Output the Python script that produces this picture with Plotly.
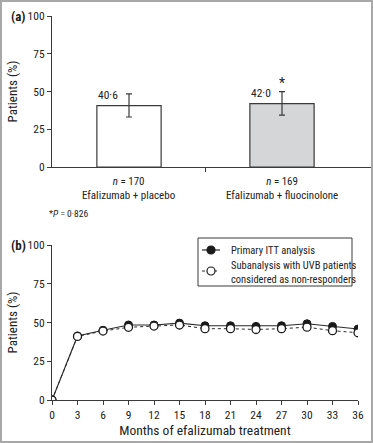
import plotly.graph_objects as go

# ---------------- data ----------------
groups = ["Efalizumab + placebo", "Efalizumab + fluocinolone"]
group_n = [170, 169]
response_pct = [40.6, 42.0]
err_plus = [7.8, 7.9]
err_minus = [7.5, 7.6]
p_value = "0·826"

months = [0, 3, 6, 9, 12, 15, 18, 21, 24, 27, 30, 33, 36]
primary_itt = [0, 41.3, 45.0, 48.4, 48.4, 49.6, 47.9, 47.9, 47.5, 47.9, 49.2, 47.5, 45.8]
subanalysis_uvb = [0, 41.0, 44.5, 46.9, 47.7, 48.4, 46.0, 46.0, 45.5, 46.0, 47.0, 44.7, 43.4]
series_names = ["Primary ITT analysis",
                "Subanalysis with UVB patients<br>considered as non-responders"]

W, H = 373, 443
FONT = "Roboto Condensed, DejaVu Sans Condensed, sans-serif"
AX = "#3a3a3a"
TXT = "#222222"


def px_x(p):
    return p / W


def px_y(p):
    return 1 - p / H


def fmt(v):
    return f"{v:.1f}".replace(".", "·")


fig = go.Figure()

# ---------- panel (a) ----------
xs = list(range(len(groups)))
fig.add_trace(go.Bar(
    x=xs, y=response_pct, width=0.42,
    marker=dict(color=["#ffffff", "#d5d6d8"], line=dict(color=AX, width=1.2)),
    error_y=dict(type="data", array=err_plus, arrayminus=err_minus,
                 color=AX, thickness=1.2, width=3),
    xaxis="x", yaxis="y", showlegend=False, hoverinfo="skip"))

# ---------- panel (b) ----------
line_primary = dict(color="#2a2a2a", width=1.2)
line_sub = dict(color="#2a2a2a", width=1, dash="dot")
fig.add_trace(go.Scatter(
    x=months, y=primary_itt, mode="lines+markers", name=series_names[0],
    line=line_primary,
    marker=dict(symbol="circle", size=8, color="#1a1a1a",
                line=dict(color="#1a1a1a", width=1)),
    xaxis="x2", yaxis="y2", showlegend=False))
fig.add_trace(go.Scatter(
    x=months, y=subanalysis_uvb, mode="lines+markers", name=series_names[1],
    line=line_sub,
    marker=dict(symbol="circle", size=8, color="#ffffff",
                line=dict(color="#1a1a1a", width=1.3)),
    xaxis="x2", yaxis="y2", showlegend=False))

# bar axis mapping: category 0 at 129px, category 1 at 282px
unit = 153.0
x_left, x_right = 52, 371
xr = [-(129 - x_left) / unit, (x_right - 129) / unit]

axis_common = dict(showline=True, linecolor=AX, linewidth=1.2, ticks="outside",
                   ticklen=4, tickcolor=AX, tickwidth=1.2, showgrid=False,
                   zeroline=False, tickfont=dict(family=FONT, size=11.5, color=TXT))

fig.update_layout(
    width=W, height=H,
    margin=dict(l=0, r=0, t=0, b=0, pad=0, autoexpand=False),
    paper_bgcolor="white", plot_bgcolor="white",
    font=dict(family=FONT, color=TXT),
    showlegend=False,
    xaxis=dict(domain=[px_x(x_left), px_x(x_right)], range=xr,
               tickvals=[0.5], ticktext=[""], anchor="y", **axis_common),
    yaxis=dict(domain=[px_y(167), px_y(16)], range=[0, 100],
               tickvals=[0, 25, 50, 75, 100], anchor="x",
               title=dict(text="Patients (%)", font=dict(family=FONT, size=13),
                          standoff=7), **axis_common),
    xaxis2=dict(domain=[px_x(52), px_x(358)], range=[0, 36],
                tickvals=months, anchor="y2",
                title=dict(text="Months of efalizumab treatment",
                           font=dict(family=FONT, size=13.5), standoff=3),
                **axis_common),
    yaxis2=dict(domain=[px_y(400), px_y(245)], range=[0, 100],
                tickvals=[0, 25, 50, 75, 100], anchor="x2",
                title=dict(text="Patients (%)", font=dict(family=FONT, size=13),
                           standoff=7), **axis_common),
)

ann = []
# value labels and category labels
for i, (g, n, v, ep) in enumerate(zip(groups, group_n, response_pct, err_plus)):
    ann.append(dict(x=i, y=v + ep, xref="x", yref="y", text=fmt(v),
                    xanchor="right", yanchor="middle", xshift=-9, yshift=-1,
                    showarrow=False, font=dict(family=FONT, size=11.5, color=TXT)))
    ann.append(dict(x=i, y=px_y(173), xref="x", yref="paper",
                    text=f"<i>n</i> = {n}<br>{g}", xanchor="center", yanchor="top",
                    showarrow=False, font=dict(family=FONT, size=11, color=TXT)))
# asterisk on second bar
ann.append(dict(x=1, y=response_pct[1] + err_plus[1], xref="x", yref="y", text="*",
                xanchor="center", yanchor="bottom", yshift=-1, showarrow=False,
                font=dict(family=FONT, size=14, color=TXT)))
# footnote
ann.append(dict(x=px_x(47), y=px_y(214), xref="paper", yref="paper",
                text=f"*<i>P</i> = {p_value}", xanchor="left", yanchor="middle",
                showarrow=False, font=dict(family=FONT, size=9.5, color=TXT)))
# panel letters
for lab, ypx in [("(a)", 16), ("(b)", 245)]:
    ann.append(dict(x=px_x(9), y=px_y(ypx), xref="paper", yref="paper",
                    text=f"<b>{lab}</b>", xanchor="left", yanchor="middle",
                    showarrow=False, font=dict(family=FONT, size=13, color=TXT)))

# ---------- manual legend ----------
shapes = []
shapes.append(dict(type="rect", xref="paper", yref="paper",
                   x0=px_x(198), x1=px_x(352), y0=px_y(286), y1=px_y(238),
                   line=dict(color=AX, width=1), fillcolor="white", layer="above"))
leg_rows = [(250, line_primary, "#1a1a1a"), (271, line_sub, "#ffffff")]
for (ypx, ln, fill) in leg_rows:
    shapes.append(dict(type="line", xref="paper", yref="paper",
                       x0=px_x(202), x1=px_x(220), y0=px_y(ypx), y1=px_y(ypx),
                       line=ln, layer="above"))
    shapes.append(dict(type="circle", xref="paper", yref="paper",
                       xsizemode="pixel", ysizemode="pixel",
                       xanchor=px_x(211), yanchor=px_y(ypx),
                       x0=-4, x1=4, y0=-4, y1=4,
                       fillcolor=fill, line=dict(color="#1a1a1a", width=1.2),
                       layer="above"))
ann.append(dict(x=px_x(229), y=px_y(250), xref="paper", yref="paper",
                text=series_names[0], xanchor="left", yanchor="middle",
                showarrow=False, font=dict(family=FONT, size=10.5, color=TXT)))
ann.append(dict(x=px_x(229), y=px_y(272), xref="paper", yref="paper",
                text=series_names[1], xanchor="left", yanchor="middle", align="left",
                showarrow=False, font=dict(family=FONT, size=10.5, color=TXT)))

# outer frame
shapes.append(dict(type="rect", xref="paper", yref="paper", x0=px_x(1), y0=px_y(442),
                   x1=px_x(372), y1=px_y(1), line=dict(color="#a8a8a8", width=2)))

fig.update_layout(annotations=ann, shapes=shapes)

fig.write_html("out.html", config={"displayModeBar": False},
               post_script="document.body.style.margin='0';")
